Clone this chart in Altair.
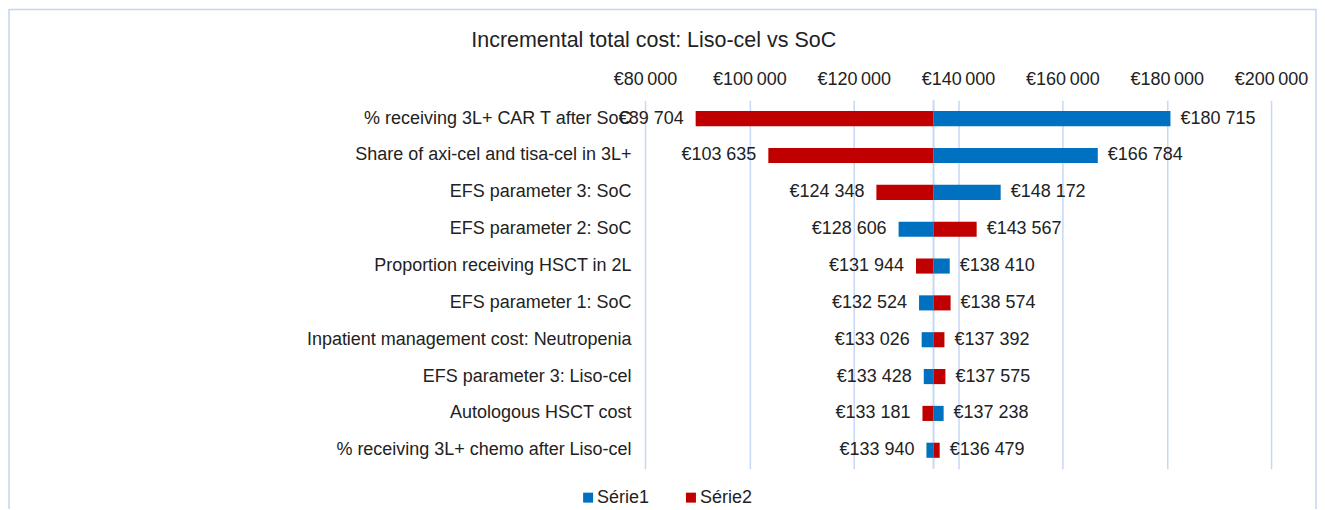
import altair as alt
import pandas as pd

categories = [
    "% receiving 3L+ CAR T after SoC",
    "Share of axi-cel and tisa-cel in 3L+",
    "EFS parameter 3: SoC",
    "EFS parameter 2: SoC",
    "Proportion receiving HSCT in 2L",
    "EFS parameter 1: SoC",
    "Inpatient management cost: Neutropenia",
    "EFS parameter 3: Liso-cel",
    "Autologous HSCT cost",
    "% receiving 3L+ chemo after Liso-cel",
]
low_values = [89704, 103635, 124348, 128606, 131944, 132524, 133026, 133428, 133181, 133940]
high_values = [180715, 166784, 148172, 143567, 138410, 138574, 137392, 137575, 137238, 136479]
low_series = ["Série2", "Série2", "Série2", "Série1", "Série2", "Série1", "Série1", "Série1", "Série2", "Série1"]
high_series = ["Série1", "Série1", "Série1", "Série2", "Série1", "Série2", "Série2", "Série2", "Série1", "Série2"]
base_value = 135300
tick_values = [80000, 100000, 120000, 140000, 160000, 180000, 200000]
series_names = ["Série1", "Série2"]
series_colors = ["#0070C0", "#C00000"]

FONT = "Liberation Sans"
TXT = "#222222"
GRID = "#c6d8f5"


def euro(v):
    return "€" + f"{v:,}".replace(",", " ")


rows = []
for c, lv, hv, ls, hs in zip(categories, low_values, high_values, low_series, high_series):
    rows.append({"category": c, "value": lv, "series": ls, "side": "low", "base": base_value, "label": euro(lv)})
    rows.append({"category": c, "value": hv, "series": hs, "side": "high", "base": base_value, "label": euro(hv)})
df = pd.DataFrame(rows)

x_scale = alt.Scale(domain=[80000, 200000], nice=False, zero=False)
y_enc = alt.Y(
    "category:N",
    sort=categories,
    scale=alt.Scale(paddingInner=0.59, paddingOuter=0.295),
    axis=alt.Axis(title=None, domain=False, ticks=False, labelPadding=14,
                  labelFontSize=18, labelColor=TXT, labelLimit=0, labelFont=FONT),
)

base = alt.Chart(df)

bars = base.mark_bar().encode(
    x=alt.X(
        "value:Q",
        scale=x_scale,
        axis=alt.Axis(
            orient="top", values=tick_values, title=None,
            labelExpr="'€' + replace(format(datum.value, ','), ',', '\u2009')",
            labelOverlap=False, labelBound=False, labelFlush=False,
            grid=True, gridColor=GRID, gridWidth=1.5, domain=False, ticks=False, tickSize=0,
            labelPadding=12, labelFontSize=18, labelColor=TXT, labelFont=FONT,
        ),
    ),
    x2="base:Q",
    y=y_enc,
    color=alt.Color(
        "series:N",
        scale=alt.Scale(domain=series_names, range=series_colors),
        legend=alt.Legend(
            title=None, orient="none", direction="horizontal", legendX=-66, legendY=389,
            symbolType="square", symbolSize=100, symbolStrokeWidth=0,
            labelFontSize=18, labelColor=TXT, labelFont=FONT,
            columnPadding=32, labelOffset=0, padding=0,
        ),
    ),
)

left_labels = base.transform_filter("datum.side == 'low'").mark_text(
    align="right", baseline="middle", dx=-12, fontSize=18, color=TXT, font=FONT
).encode(x=alt.X("value:Q", scale=x_scale), y=y_enc, text="label:N")

right_labels = base.transform_filter("datum.side == 'high'").mark_text(
    align="left", baseline="middle", dx=10, fontSize=18, color=TXT, font=FONT
).encode(x=alt.X("value:Q", scale=x_scale), y=y_enc, text="label:N")

base_rule = alt.Chart(pd.DataFrame({"base": [base_value]})).mark_rule(
    color=GRID, strokeWidth=2
).encode(x=alt.X("base:Q", scale=x_scale))

border = alt.Chart(pd.DataFrame({"a": [0]})).mark_rect(
    fill="transparent", stroke="#c3d5f2", strokeWidth=1.5, clip=False
).encode(x=alt.value(-637), x2=alt.value(672), y=alt.value(-91), y2=alt.value(430))

chart = alt.layer(border, base_rule, bars, left_labels, right_labels).properties(
    width=627,
    height=369,
    autosize=alt.AutoSizeParams(type="none"),
    padding={"left": 638, "top": 92, "right": 46, "bottom": 40},
    title=alt.TitleParams(
        "Incremental total cost: Liso-cel vs SoC", anchor="start", frame="group",
        dx=-174, dy=59,
        fontSize=21.5, font=FONT, fontWeight="normal", color=TXT, offset=16,
    ),
).configure(font=FONT, background="white").configure_view(strokeWidth=0)

chart.save("out.html", embed_options={"renderer": "svg", "actions": False})
